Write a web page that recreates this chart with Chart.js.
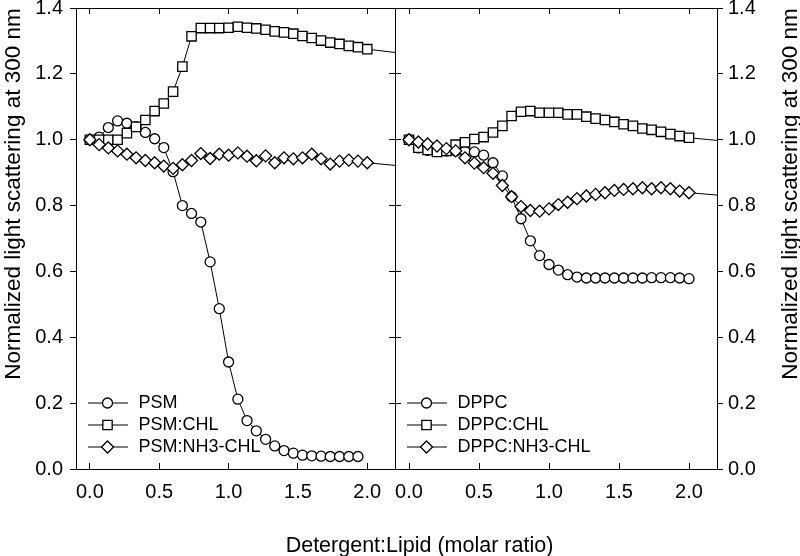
<!DOCTYPE html>
<html>
<head>
<meta charset="utf-8">
<script src="https://cdn.jsdelivr.net/npm/chart.js@4/dist/chart.umd.min.js"></script>
<style>
  html, body { margin: 0; padding: 0; background: #fff; }
  #wrap { position: relative; width: 800px; height: 556px; }
  #wrap canvas { position: absolute; left: 0; top: 0; }
</style>
</head>
<body>
<div id="wrap">
  <canvas id="psmChart" width="800" height="556"></canvas>
  <canvas id="dppcChart" width="800" height="556"></canvas>
</div>
<script>
// detergent:lipid ratios of the titration points
const ratios = [0, 0.067, 0.133, 0.2, 0.267, 0.333, 0.4, 0.467, 0.533, 0.6,
  0.667, 0.733, 0.8, 0.867, 0.933, 1.0, 1.067, 1.133, 1.2, 1.267,
  1.333, 1.4, 1.467, 1.533, 1.6, 1.667, 1.733, 1.8, 1.867, 1.933, 2.0];
const xMin = -0.1;
const xMax = 2.2;
const xTicks = [0, 0.5, 1.0, 1.5, 2.0];
const yTicks = [0, 0.2, 0.4, 0.6, 0.8, 1.0, 1.2, 1.4];

const psm = [1.0, 1.008, 1.037, 1.057, 1.05, 1.04, 1.022, 1.003, 0.976, 0.903,
  0.800, 0.776, 0.750, 0.629, 0.487, 0.325, 0.212, 0.147, 0.116, 0.090,
  0.070, 0.056, 0.048, 0.042, 0.040, 0.039, 0.038, 0.038, 0.038, 0.038];
const psmChl = [1.0, 1.0, 1.0, 1.0, 1.02, 1.039, 1.06, 1.087, 1.11, 1.146,
  1.222, 1.314, 1.339, 1.339, 1.339, 1.340, 1.343, 1.340, 1.338, 1.334,
  1.329, 1.326, 1.322, 1.315, 1.309, 1.301, 1.295, 1.291, 1.285, 1.281, 1.275];
const psmNh3 = [1.0, 0.985, 0.975, 0.966, 0.956, 0.945, 0.937, 0.930, 0.920, 0.913,
  0.924, 0.937, 0.958, 0.943, 0.956, 0.953, 0.960, 0.950, 0.936, 0.951,
  0.930, 0.945, 0.942, 0.945, 0.956, 0.942, 0.926, 0.935, 0.938, 0.935, 0.930];

const dppc = [1.0, 0.975, 0.968, 0.965, 0.966, 0.966, 0.965, 0.963, 0.953, 0.930,
  0.890, 0.827, 0.760, 0.693, 0.648, 0.621, 0.604, 0.590, 0.583, 0.580,
  0.580, 0.580, 0.580, 0.580, 0.580, 0.580, 0.581, 0.581, 0.581, 0.580, 0.578];
const dppcChl = [1.0, 0.976, 0.969, 0.963, 0.966, 0.985, 0.992, 1.002, 1.008, 1.022,
  1.042, 1.072, 1.085, 1.087, 1.082, 1.082, 1.082, 1.077, 1.077, 1.070,
  1.064, 1.060, 1.054, 1.047, 1.042, 1.034, 1.030, 1.024, 1.017, 1.011, 1.006];
const dppcNh3 = [1.0, 0.993, 0.987, 0.981, 0.973, 0.966, 0.945, 0.929, 0.915, 0.898,
  0.861, 0.827, 0.797, 0.785, 0.783, 0.790, 0.803, 0.810, 0.821, 0.829,
  0.834, 0.839, 0.846, 0.849, 0.851, 0.854, 0.851, 0.854, 0.851, 0.844, 0.839];

// where the fitted lines leave the panel at x = xMax
const psmChlEdge = 1.265;
const psmNh3Edge = 0.922;
const dppcChlEdge = 0.998;
const dppcNh3Edge = 0.832;

const psmLabels = ["PSM", "PSM:CHL", "PSM:NH3-CHL"];
const dppcLabels = ["DPPC", "DPPC:CHL", "DPPC:NH3-CHL"];
const yTitle = "Normalized light scattering at 300 nm";
const xTitle = "Detergent:Lipid (molar ratio)";

const FONT = '"Liberation Sans", Arial, Helvetica, sans-serif';
Chart.defaults.font.family = FONT;
Chart.defaults.color = "#000";

const markers = [
  { pointStyle: "circle", radius: 5 },
  { pointStyle: "rect", radius: 6.6 },
  { pointStyle: "rectRot", radius: 6 },
];

const makeDataset = (label, values, edge, idx) => {
  const data = values.map((y, i) => ({ x: ratios[i], y }));
  const radii = values.map(() => markers[idx].radius);
  if (edge !== undefined) {
    data.push({ x: xMax, y: edge });
    radii.push(0);
  }
  return {
    label,
    data,
    xAxisID: "x",
    yAxisID: "y",
    borderColor: "#000",
    borderWidth: 1,
    backgroundColor: "#fff",
    pointStyle: markers[idx].pointStyle,
    pointRadius: radii,
    pointBorderWidth: 1.3,
    pointBackgroundColor: "#fff",
    pointBorderColor: "#000",
    tension: 0,
    order: 2 - idx,
  };
};

const noPad = (s) => {
  s.paddingTop = 0; s.paddingBottom = 0; s.paddingLeft = 0; s.paddingRight = 0;
};

const xAxis = (position, showLabels) => ({
  type: "linear",
  position,
  min: xMin,
  max: xMax,
  afterBuildTicks: (s) => { s.ticks = xTicks.map((v) => ({ value: v })); },
  afterFit: (s) => { s.height = showLabels ? 87 : 0; noPad(s); },
  ticks: {
    display: showLabels,
    font: { size: 20 },
    padding: 17,
    maxRotation: 0,
    autoSkip: false,
    callback: (v) => Number(v).toFixed(1),
  },
  grid: { drawOnChartArea: false, tickLength: -6, color: "#000", lineWidth: 1 },
  border: { color: "#000", width: 1 },
});

const yAxis = (position, showLabels, width) => ({
  type: "linear",
  position,
  min: 0,
  max: 1.4,
  afterBuildTicks: (s) => { s.ticks = yTicks.map((v) => ({ value: v })); },
  afterFit: (s) => { s.width = width; noPad(s); },
  ticks: {
    display: showLabels,
    font: { size: 20 },
    padding: position === "left" ? 7 : 5,
    callback: (v) => Number(v).toFixed(1),
  },
  grid: {
    drawOnChartArea: false,
    tickLength: showLabels ? 6 : -6,
    color: "#000",
    lineWidth: 1,
  },
  border: { color: "#000", width: 1 },
});

const decor = {
  id: "decor",
  afterDraw(chart, args, opts) {
    const { ctx, chartArea } = chart;
    ctx.save();
    // legend, bottom left of the panel
    opts.labels.forEach((label, i) => {
      const ds = chart.data.datasets[i];
      const y = chartArea.bottom - 66 + i * 22;
      ctx.strokeStyle = "#000";
      ctx.lineWidth = 1;
      ctx.beginPath();
      ctx.moveTo(chartArea.left + 12, y);
      ctx.lineTo(chartArea.left + 52, y);
      ctx.stroke();
      ctx.fillStyle = "#fff";
      ctx.lineWidth = 1.3;
      Chart.helpers.drawPoint(ctx, {
        pointStyle: ds.pointStyle,
        radius: markers[i].radius,
        borderWidth: 1.3,
        rotation: 0,
      }, chartArea.left + 31.5, y);
      ctx.fillStyle = "#000";
      ctx.font = `18px ${FONT}`;
      ctx.textAlign = "left";
      ctx.textBaseline = "middle";
      ctx.fillText(label, chartArea.left + 62.5, y);
    });
    // rotated y title
    ctx.save();
    ctx.translate(opts.yTitleX, 194);
    ctx.rotate(-Math.PI / 2);
    ctx.font = `22.5px ${FONT}`;
    ctx.textAlign = "center";
    ctx.textBaseline = "alphabetic";
    ctx.fillStyle = "#000";
    ctx.fillText(yTitle, 0, 0);
    ctx.restore();
    // shared x title
    if (opts.xTitle) {
      ctx.font = `21.5px ${FONT}`;
      ctx.textAlign = "center";
      ctx.textBaseline = "alphabetic";
      ctx.fillStyle = "#000";
      ctx.fillText(xTitle, 419.5, 551.5);
    }
    ctx.restore();
  },
};

const baseOptions = (padding, scales, decorOpts) => ({
  responsive: false,
  animation: false,
  devicePixelRatio: 1,
  layout: { padding },
  scales,
  plugins: {
    legend: { display: false },
    tooltip: { enabled: false },
    decor: decorOpts,
  },
});

new Chart(document.querySelector("#psmChart"), {
  type: "line",
  data: {
    datasets: [
      makeDataset(psmLabels[0], psm, undefined, 0),
      makeDataset(psmLabels[1], psmChl, psmChlEdge, 1),
      makeDataset(psmLabels[2], psmNh3, psmNh3Edge, 2),
    ],
  },
  options: baseOptions(
    { top: 8, right: 405, left: 0, bottom: 0 },
    {
      x: xAxis("bottom", true),
      xTop: xAxis("top", false),
      y: yAxis("left", true, 76),
      yRight: yAxis("right", false, 0),
    },
    { labels: psmLabels, yTitleX: 19.5, xTitle: true },
  ),
  plugins: [decor],
});

new Chart(document.querySelector("#dppcChart"), {
  type: "line",
  data: {
    datasets: [
      makeDataset(dppcLabels[0], dppc, undefined, 0),
      makeDataset(dppcLabels[1], dppcChl, dppcChlEdge, 1),
      makeDataset(dppcLabels[2], dppcNh3, dppcNh3Edge, 2),
    ],
  },
  options: baseOptions(
    { top: 8, right: 0, left: 395, bottom: 0 },
    {
      x: xAxis("bottom", true),
      xTop: xAxis("top", false),
      y: yAxis("right", true, 83),
      yLeft: yAxis("left", false, 0),
    },
    { labels: dppcLabels, yTitleX: 797, xTitle: false },
  ),
  plugins: [decor],
});
</script>
</body>
</html>
